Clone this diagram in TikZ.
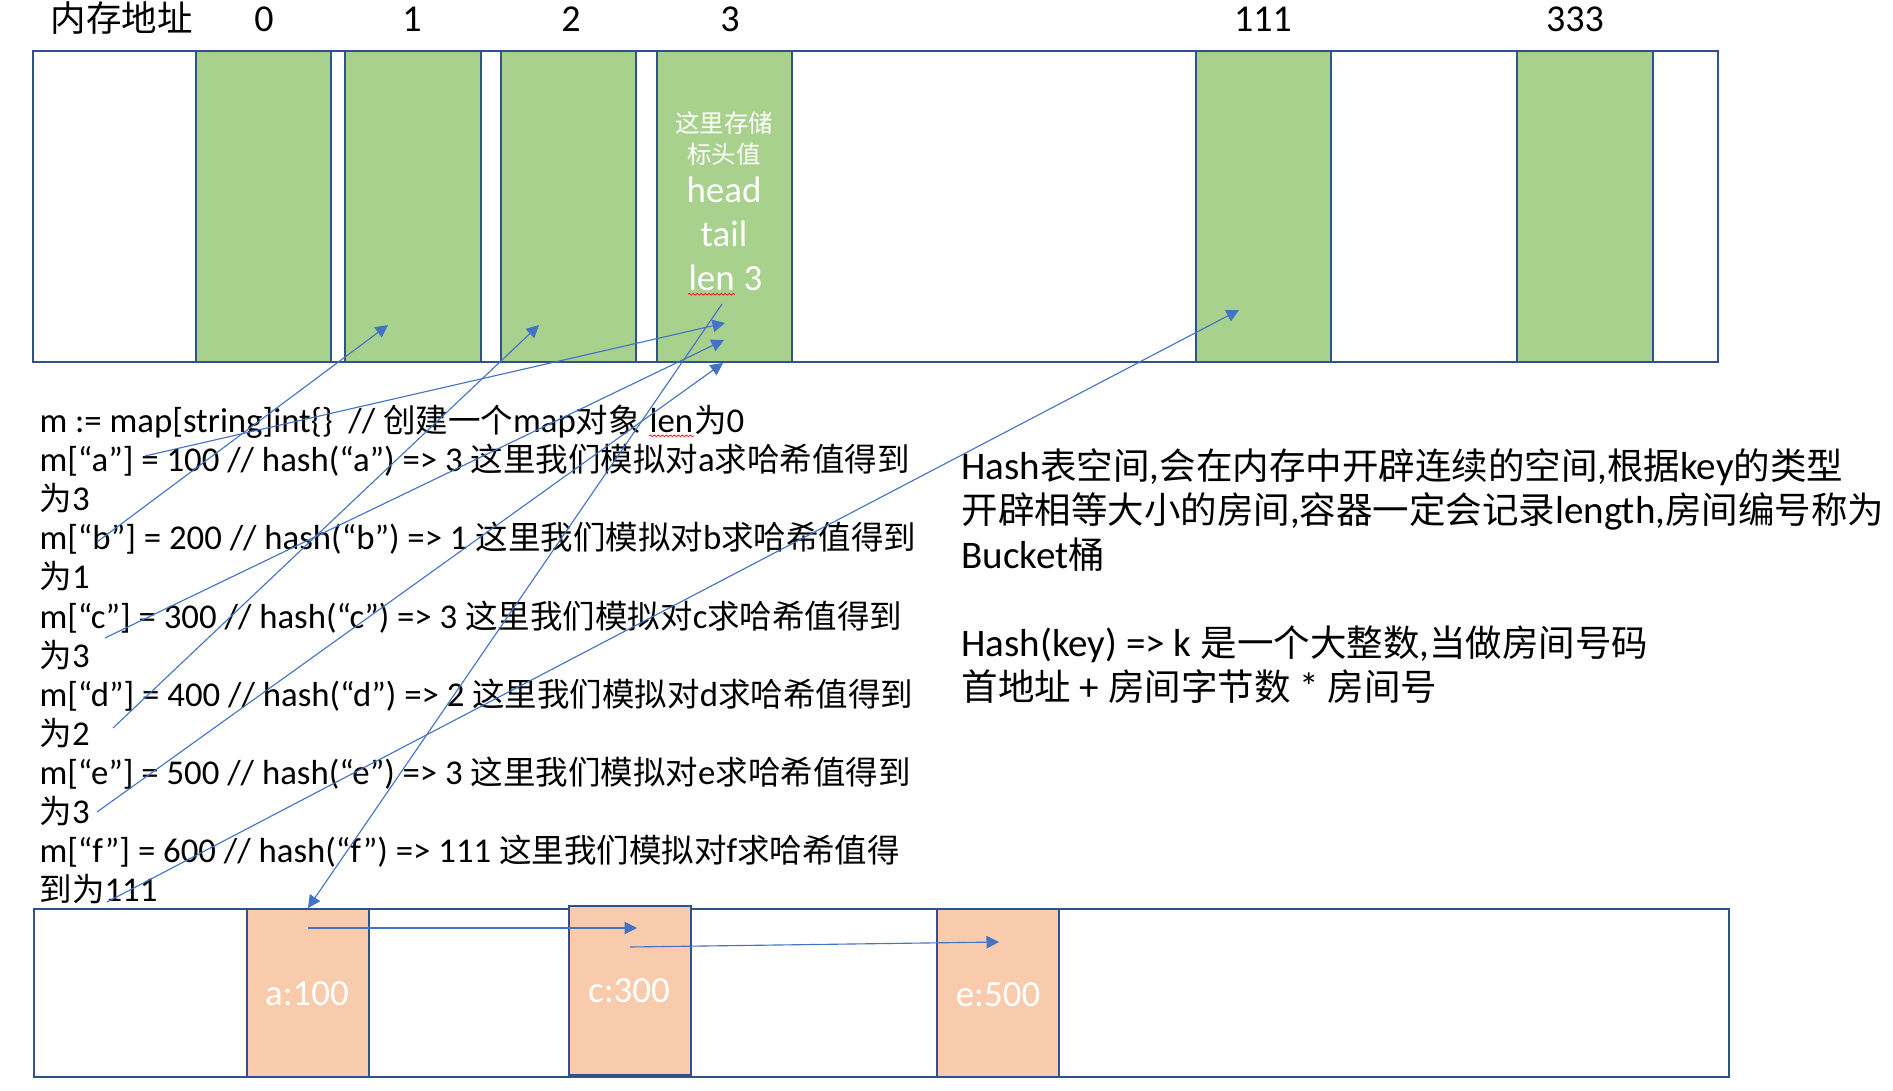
\documentclass[tikz,border=0pt]{standalone}
\usepackage{fontspec}
\setmainfont{Carlito}[Scale=1.07]
\newfontfamily\zhfont{Noto Sans CJK SC}
\newcommand{\zh}[1]{{\zhfont #1}}
\usepackage{xcolor}
\usepackage{tikz}
\usetikzlibrary{arrows.meta, positioning, decorations.pathmorphing}
\definecolor{cellgreen}{RGB}{169, 209, 142}
\definecolor{cellorange}{RGB}{248, 203, 173}
\definecolor{frameblue}{RGB}{47, 82, 143}
\definecolor{linkblue}{RGB}{68, 114, 196}
\definecolor{spellred}{RGB}{225, 30, 30}

\begin{document}
\begin{tikzpicture}[x=0.4pt, y=-0.4pt,
    memframe/.style={draw=frameblue, line width=1pt, fill=white},
    cell/.style={draw=frameblue, line width=0.8pt, fill=cellgreen},
    bucket/.style={draw=frameblue, line width=0.8pt, fill=cellorange},
    addr/.style={anchor=base, inner sep=0pt, font=\fontsize{14.2pt}{16pt}\selectfont},
    codeline/.style={anchor=base west, inner sep=0pt, font=\fontsize{13pt}{15pt}\selectfont},
    note/.style={anchor=base west, inner sep=0pt, font=\fontsize{14.6pt}{17pt}\selectfont},
    celltext/.style={anchor=base, inner sep=0pt, text=white, font=\fontsize{13.8pt}{16pt}\selectfont},
    spell/.style={spellred, line width=0.3pt, decorate,
      decoration={snake, amplitude=0.35pt, segment length=1.6pt}},
    link/.style={linkblue, line width=0.45pt, -{Triangle[length=5pt, width=5pt]}}]
  \useasboundingbox (0,0) rectangle (1893,1091);

  % memory addresses
  \draw[memframe] (33,51) rectangle (1718,362);
  \foreach \l/\r in {196/331, 345/481, 501/636, 657/792, 1196/1331, 1517/1653}
    \draw[cell] (\l,51) rectangle (\r,362);
  \node[addr] (addrtitle) at (122,32) {\zh{内存地址}};
  \node[addr] (addr0) at (264,32) {0};
  \node[addr] (addr1) at (412,32) {1};
  \node[addr] (addr2) at (571,32) {2};
  \node[addr] (addr3) at (730,32) {3};
  \node[addr] (addr111) at (1263,32) {111};
  \node[addr] (addr333) at (1575,32) {333};

  % header stored in bucket 3
  \node[celltext, font=\fontsize{9.8pt}{11pt}\selectfont] (hint1) at (724,133) {\zh{这里存储}};
  \node[celltext, font=\fontsize{9.8pt}{11pt}\selectfont] (hint2) at (724,164) {\zh{标头值}};
  \node[celltext] (head) at (724,203) {head};
  \node[celltext] (tail) at (724,247) {tail};
  \node[celltext, anchor=base west] (lenword) at (688,291) {len};
  \node[celltext, anchor=base west, xshift=3.2pt] (lennum) at (lenword.base east) {3};
  \draw[spell] ([yshift=-1.3pt]lenword.base west) -- ([yshift=-1.3pt]lenword.base east);

  % go code
  \node[codeline] (l1) at (39,432.6) {m := map[string]int\{\}\ \ // \zh{创建一个}map\zh{对象}};
  \node[codeline, xshift=3.1pt] (l1len) at (l1.base east) {len};
  \node[codeline] (l1end) at (l1len.base east) {\zh{为}0};
  \draw[spell] ([yshift=-1.3pt]l1len.base west) -- ([yshift=-1.3pt]l1len.base east);
  \node[codeline] (l2) at (39,471.7) {m[“a”] = 100 // hash(“a”) => 3 \zh{这里我们模拟对}a\zh{求哈希值得到}};
  \node[codeline] (l3) at (39,510.8) {\zh{为}3};
  \node[codeline] (l4) at (39,549.9) {m[“b”] = 200 // hash(“b”) => 1 \zh{这里我们模拟对}b\zh{求哈希值得到}};
  \node[codeline] (l5) at (39,589.0) {\zh{为}1};
  \node[codeline] (l6) at (39,628.1) {m[“c”] = 300 // hash(“c”) => 3 \zh{这里我们模拟对}c\zh{求哈希值得到}};
  \node[codeline] (l7) at (39,667.2) {\zh{为}3};
  \node[codeline] (l8) at (39,706.3) {m[“d”] = 400 // hash(“d”) => 2 \zh{这里我们模拟对}d\zh{求哈希值得到}};
  \node[codeline] (l9) at (39,745.4) {\zh{为}2};
  \node[codeline] (l10) at (39,784.5) {m[“e”] = 500 // hash(“e”) => 3 \zh{这里我们模拟对}e\zh{求哈希值得到}};
  \node[codeline] (l11) at (39,823.6) {\zh{为}3};
  \node[codeline] (l12) at (39,862.7) {m[“f”] = 600 // hash(“f”) => 111 \zh{这里我们模拟对}f\zh{求哈希值得}};
  \node[codeline] (l13) at (39,901.8) {\zh{到为}111};

  % notes
  \node[note] (n1) at (961,480) {Hash\zh{表空间},\zh{会在内存中开辟连续的空间},\zh{根据}key\zh{的类型}};
  \node[note] (n2) at (961,524) {\zh{开辟相等大小的房间},\zh{容器一定会记录}length,\zh{房间编号称为}};
  \node[note] (n3) at (961,568) {Bucket\zh{桶}};
  \node[note] (n4) at (961,656) {Hash(key) => k \zh{是一个大整数},\zh{当做房间号码}};
  \node[note] (n5) at (961,700) {\zh{首地址} + \zh{房间字节数} * \zh{房间号}};

  % linked entries
  \draw[memframe] (34,909) rectangle (1729,1077);
  \draw[bucket] (247,909) rectangle (369,1077);
  \draw[bucket] (569,906) rectangle (691,1075);
  \draw[bucket] (937,909) rectangle (1059,1077);
  \node[celltext] (ea) at (307,1005) {a:100};
  \node[celltext] (ec) at (629,1002) {c:300};
  \node[celltext] (ee) at (998,1006) {e:500};

  % hash links
  \coordinate (fa) at (145,456);  \coordinate (ta) at (725,323);
  \coordinate (fb) at (97,542);   \coordinate (tb) at (388,325);
  \coordinate (fc) at (105,638);  \coordinate (tc) at (724,340);
  \coordinate (fd) at (113,728);  \coordinate (td) at (539,325);
  \coordinate (fe) at (97,812);   \coordinate (te) at (723,363);
  \coordinate (ff) at (107,902);  \coordinate (tf) at (1239,310);
  \coordinate (fh) at (722,304);  \coordinate (th) at (308,908);
  \coordinate (fn) at (308,928);  \coordinate (tn) at (637,928);
  \coordinate (fm) at (630,947);  \coordinate (tm) at (999,942);
  \foreach \s/\t in {fa/ta, fb/tb, fc/tc, fd/td, fe/te, ff/tf, fh/th, fn/tn, fm/tm}
    \draw[link] (\s) -- (\t);
\end{tikzpicture}
\end{document}
